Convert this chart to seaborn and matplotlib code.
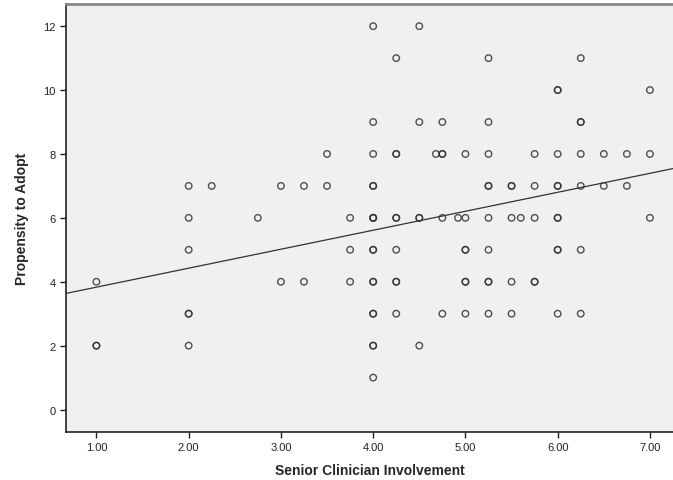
import numpy as np
import pandas as pd
import matplotlib
matplotlib.use("Agg")
import matplotlib.pyplot as plt
import seaborn as sns

sns.set_style("ticks")
plt.rcParams['font.family'] = ['Liberation Sans', 'DejaVu Sans']

# Senior clinician involvement (x) and propensity to adopt (y), one entry per case
involvement = [
    1.00, 1.00, 1.00,
    2.00, 2.00, 2.00, 2.00, 2.00, 2.00,
    2.25, 2.75,
    3.00, 3.00, 3.25, 3.25,
    3.50, 3.50,
    3.75, 3.75, 3.75,
    4.00, 4.00, 4.00, 4.00, 4.00, 4.00, 4.00, 4.00, 4.00, 4.00,
    4.00, 4.00, 4.00, 4.00, 4.00, 4.00, 4.00,
    4.25, 4.25, 4.25, 4.25, 4.25, 4.25, 4.25, 4.25, 4.25,
    4.50, 4.50, 4.50, 4.50, 4.50,
    4.68, 4.75, 4.75, 4.75, 4.75, 4.75,
    4.92, 5.00, 5.00, 5.00, 5.00, 5.00, 5.00, 5.00,
    5.25, 5.25, 5.25, 5.25, 5.25, 5.25, 5.25, 5.25, 5.25, 5.25,
    5.50, 5.50, 5.50, 5.50, 5.50,
    5.60,
    5.75, 5.75, 5.75, 5.75, 5.75,
    6.00, 6.00, 6.00, 6.00, 6.00, 6.00, 6.00, 6.00, 6.00, 6.00,
    6.25, 6.25, 6.25, 6.25, 6.25, 6.25, 6.25,
    6.50, 6.50, 6.75, 6.75,
    7.00, 7.00, 7.00,
]
propensity = [
    4, 2, 2,
    7, 6, 5, 3, 3, 2,
    7, 6,
    7, 4, 7, 4,
    8, 7,
    6, 5, 4,
    12, 9, 8, 7, 7, 6, 6, 6, 5, 5,
    4, 4, 3, 3, 2, 2, 1,
    11, 8, 8, 6, 6, 5, 4, 4, 3,
    12, 9, 6, 6, 2,
    8, 9, 8, 8, 6, 3,
    6, 8, 6, 5, 5, 4, 4, 3,
    11, 9, 8, 7, 7, 6, 5, 4, 4, 3,
    7, 7, 6, 4, 3,
    6,
    8, 7, 6, 4, 4,
    10, 10, 8, 7, 7, 6, 6, 5, 5, 3,
    11, 9, 9, 8, 7, 5, 3,
    8, 7, 8, 7,
    10, 8, 6,
]

df = pd.DataFrame({'Senior Clinician Involvement': involvement,
                   'Propensity to Adopt': propensity})

fig = plt.figure(figsize=(6.73, 4.81), dpi=100)
ax = fig.add_axes([0.098, 0.1, 0.902, 0.89])
ax.set_facecolor('#f0f0f0')
ax.set_xlim(0.67, 7.25)
ax.set_ylim(-0.7, 12.7)

# fit line runs across the whole axis, like the SPSS "fit line at total"
sns.regplot(data=df, x='Senior Clinician Involvement', y='Propensity to Adopt',
            ci=None, truncate=False, ax=ax,
            scatter_kws=dict(s=22, facecolors='none', edgecolors='#333333',
                             linewidths=1.0, alpha=0.85),
            line_kws=dict(color='#333333', linewidth=0.9))

ax.set_xlim(0.67, 7.25)
ax.set_ylim(-0.7, 12.7)
ax.set_xticks([1, 2, 3, 4, 5, 6, 7])
ax.set_xticklabels([f'{v:.2f}' for v in [1, 2, 3, 4, 5, 6, 7]])
ax.set_yticks([0, 2, 4, 6, 8, 10, 12])
ax.tick_params(axis='both', labelsize=8, length=4, width=1, color='#222222',
               labelcolor='#222222')
ax.set_xlabel('Senior Clinician Involvement', fontsize=10, fontweight='bold', labelpad=8)
ax.set_ylabel('Propensity to Adopt', fontsize=10, fontweight='bold', labelpad=10)

for side in ['left', 'bottom']:
    ax.spines[side].set_color('#222222')
    ax.spines[side].set_linewidth(1.2)
ax.spines['top'].set_color('#888888')
ax.spines['top'].set_linewidth(2)
ax.spines['right'].set_visible(False)

fig.savefig('out.png', dpi=100)
